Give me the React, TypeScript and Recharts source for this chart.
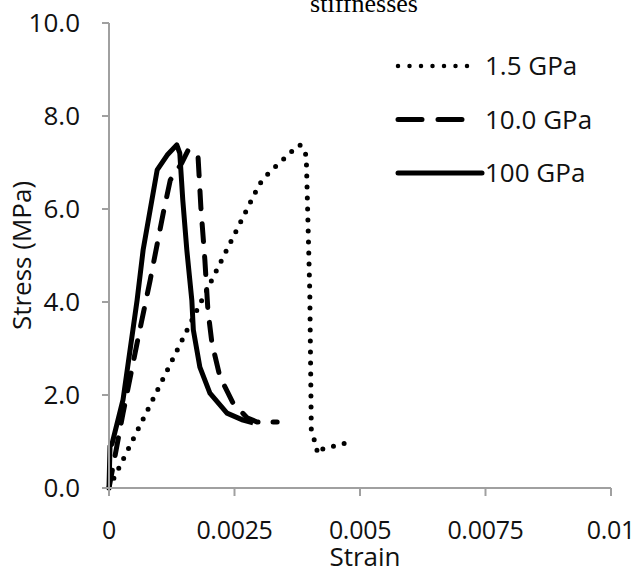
import { Legend, Line, LineChart, XAxis, YAxis } from "recharts"

// strain / stress readings for each stiffness
const strainSoft = [0, 0.001, 0.002, 0.003, 0.0032, 0.0034, 0.0036, 0.0038, 0.0039, 0.00393, 0.004, 0.00403, 0.00412, 0.00416, 0.00426, 0.0048]
const stressSoft = [0, 2.18, 4.37, 6.54, 6.8, 6.99, 7.2, 7.38, 7.27, 7.1, 4.2, 1.25, 0.92, 0.73, 0.84, 0.99]

const strainMid = [0, 0.00028, 0.00056, 0.00082, 0.00108, 0.00122, 0.00145, 0.00157, 0.00177, 0.00183, 0.00191, 0.00197, 0.00205, 0.00221, 0.00247, 0.00275, 0.00295, 0.00335]
const stressMid = [0, 1.61, 3.12, 4.47, 5.91, 6.62, 6.99, 7.25, 7.2, 6.04, 4.9, 3.83, 3.12, 2.39, 1.83, 1.51, 1.42, 1.42]

const strainStiff = [0, 0.00002, 0.00006, 0.00028, 0.00056, 0.00068, 0.00082, 0.00096, 0.00116, 0.00135, 0.00141, 0.00147, 0.00155, 0.00165, 0.00168, 0.00181, 0.00201, 0.00235, 0.00267, 0.00287]
const stressStiff = [0, 0.9, 0.95, 1.9, 4.04, 5.12, 5.98, 6.84, 7.16, 7.38, 7.2, 6.19, 5.12, 4.04, 3.4, 2.6, 2.04, 1.61, 1.46, 1.4]

const xTicks = [0, 0.0025, 0.005, 0.0075, 0.01]
const yTicks = [0, 2, 4, 6, 8, 10]
const seriesNames = ["1.5 GPa", "10.0 GPa", "100 GPa"]

const toPoints = (xs: number[], ys: number[]) => xs.map((x, i) => ({ x, y: ys[i] }))

const softData = toPoints(strainSoft, stressSoft)
const midData = toPoints(strainMid, stressMid)
const stiffData = toPoints(strainStiff, stressStiff)

const font = "'Open Sans', sans-serif"
const axisGrey = "#a0a0a0"

const legendStyles = [
  { dash: "0 11.5", width: 4.5, end: 468 },
  { dash: "24 16", width: 5, end: 462 },
  { dash: undefined, width: 5, end: 482 },
]

function ChartLegend() {
  return (
    <svg width={240} height={150}>
      {seriesNames.map((name, i) => {
        const y = 18 + i * 53.5
        const s = legendStyles[i]
        return (
          <g key={name}>
            <line x1={10} x2={s.end - 388} y1={y} y2={y} stroke="#000" strokeWidth={s.width}
              strokeDasharray={s.dash} strokeLinecap="round" />
            <text x={97} y={y} dy="0.355em" fontSize={26} fontFamily={font} fill="#111">{name}</text>
          </g>
        )
      })}
    </svg>
  )
}

function App() {
  return (
    <div style={{ position: "absolute", left: 0, top: 0, width: 635, height: 574, background: "#fff" }}>
      <LineChart width={635} height={574} margin={{ top: 23, right: 24, bottom: 0, left: 0 }}>
        <XAxis dataKey="x" type="number" domain={[0, 0.01]} ticks={xTicks} height={86}
          axisLine={{ stroke: axisGrey, strokeWidth: 2 }} tickLine={{ stroke: axisGrey, strokeWidth: 2 }}
          tickSize={8} tickMargin={25} interval={0}
          tick={{ fill: "#111", fontSize: 25, fontFamily: font, letterSpacing: -0.3 }}
          label={{ value: "Strain", position: "insideBottom", offset: 8, dx: 5, fill: "#111", fontSize: 26, fontFamily: font }}
        />
        <YAxis type="number" domain={[0, 10]} ticks={yTicks} width={109} interval={0}
          tickFormatter={(v: number) => v.toFixed(1)}
          axisLine={{ stroke: axisGrey, strokeWidth: 2 }} tickLine={{ stroke: axisGrey, strokeWidth: 2 }}
          tickSize={7} tickMargin={22}
          tick={{ fill: "#111", fontSize: 26, fontFamily: font }}
          label={{ value: "Stress (MPa)", angle: -90, position: "insideLeft", offset: 22, fill: "#111", fontSize: 26, fontFamily: font, style: { textAnchor: "middle" } }}
        />
        <Legend content={<ChartLegend />} layout="horizontal" verticalAlign="middle" align="center"
          wrapperStyle={{ position: "absolute", left: 388, top: 48, width: 240 }} />
        <Line data={softData} dataKey="y" name={seriesNames[0]} stroke="#000" strokeWidth={5}
          strokeDasharray="0 11" strokeLinecap="round" dot={false} activeDot={false} isAnimationActive={false} />
        <Line data={midData} dataKey="y" name={seriesNames[1]} stroke="#000" strokeWidth={5}
          strokeDasharray="18 15" strokeLinecap="round" dot={false} activeDot={false} isAnimationActive={false} />
        <Line data={stiffData} dataKey="y" name={seriesNames[2]} stroke="#000" strokeWidth={5}
          strokeLinejoin="round" dot={false} activeDot={false} isAnimationActive={false} />
      </LineChart>
      <svg width={635} height={30} style={{ position: "absolute", left: 0, top: 0, pointerEvents: "none" }}>
        <text x={364} y={12} textAnchor="middle" fontSize={26} fontFamily="'Liberation Serif', serif" fill="#000">stiffnesses</text>
      </svg>
    </div>
  )
}

export default App
